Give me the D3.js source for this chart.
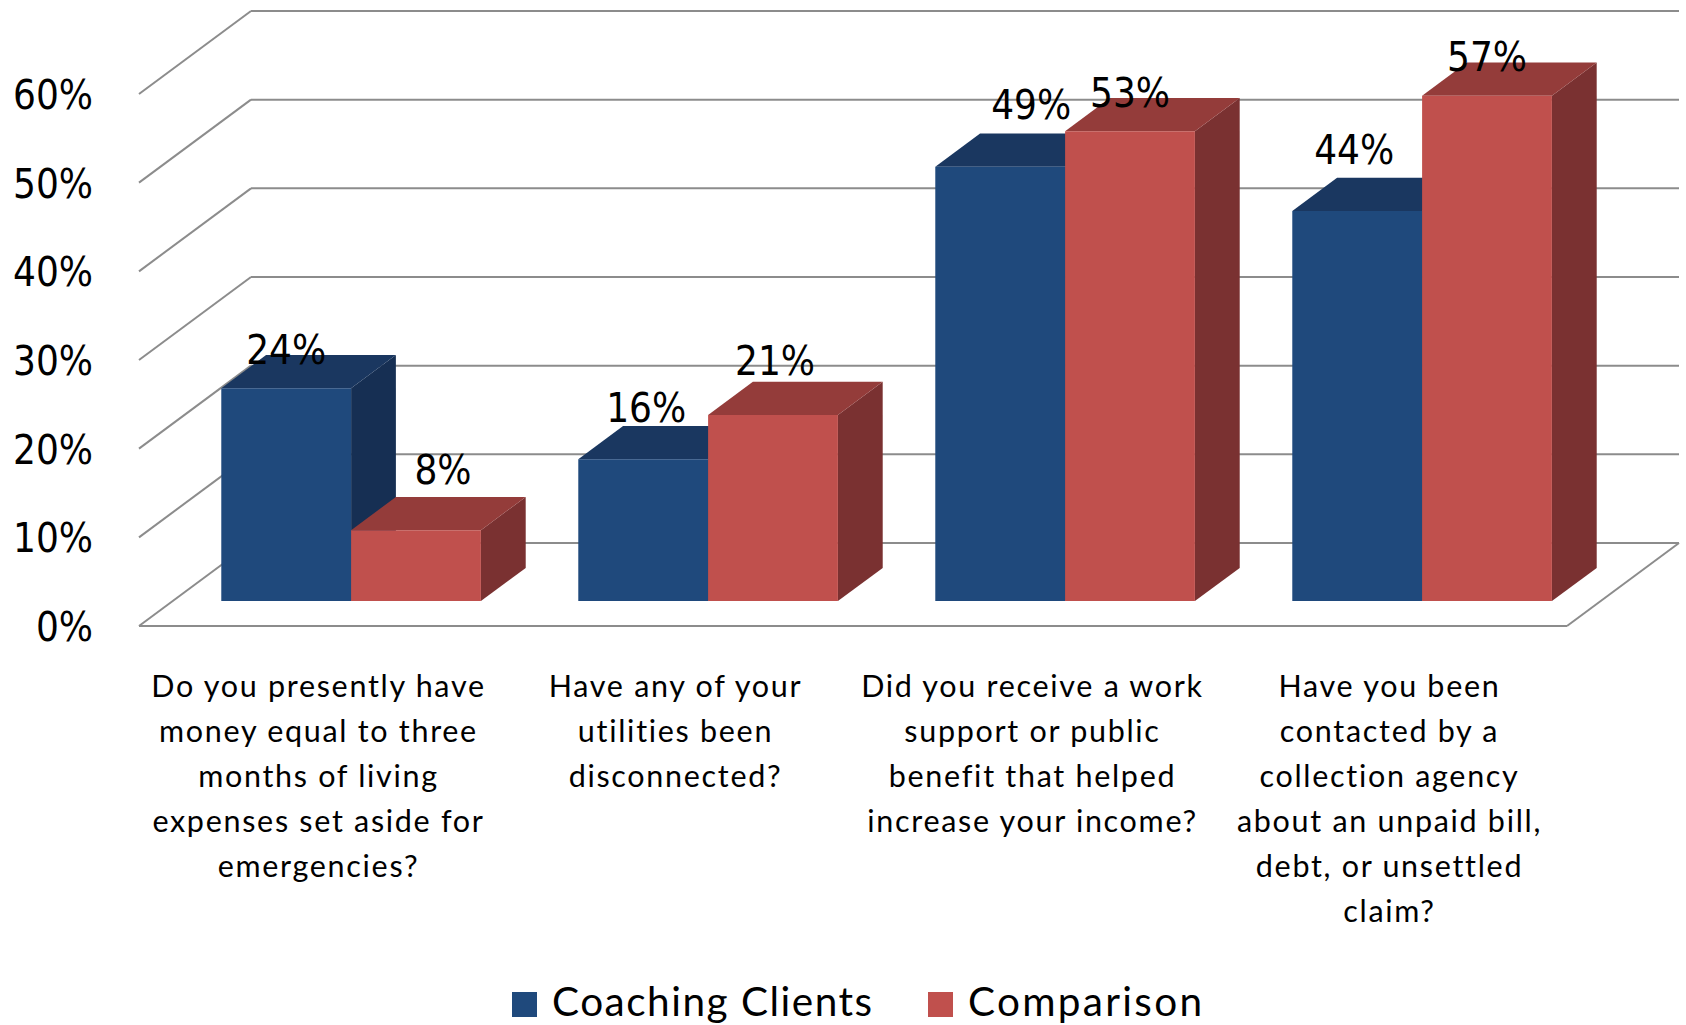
<!DOCTYPE html>
<html>
<head>
<meta charset="utf-8">
<script src="https://cdn.jsdelivr.net/npm/d3@7"></script>
<style>
  html, body { margin: 0; padding: 0; background: #ffffff; }
  svg { display: block; }
  .num { font-family: 'DejaVu Sans Condensed', 'DejaVu Sans', sans-serif; font-stretch: condensed; fill: #000; }
  .cat { font-family: Lato, 'Open Sans', sans-serif; fill: #000; }
</style>
</head>
<body>
<svg id="chart" width="1686" height="1025"></svg>
<script>
// Survey answers, one entry per question (line-broken as shown under the floor)
const categories = [
  ["Do you presently have", "money equal to three", "months of living", "expenses set aside for", "emergencies?"],
  ["Have any of your", "utilities been", "disconnected?"],
  ["Did you receive a work", "support or public", "benefit that helped", "increase your income?"],
  ["Have you been", "contacted by a", "collection agency", "about an unpaid bill,", "debt, or unsettled", "claim?"]
];
const seriesNames = ["Coaching Clients", "Comparison"];
const coachingClients = [0.24, 0.16, 0.49, 0.44];
const comparison = [0.08, 0.21, 0.53, 0.57];
const yTicks = [0, 0.1, 0.2, 0.3, 0.4, 0.5, 0.6];

// Label nudges [dx, dy] away from the default spot over each bar's front top edge
const labelNudge = [
  [[0, -24], [27, -46]],
  [[3, -37], [2, -40]],
  [[31, -48], [0, -24]],
  [[-3, -47], [0, -25]]
];

const seriesColors = [
  { front: "#1F497C", top: "#1A3760", side: "#162F53" },
  { front: "#C0504D", top: "#943C3A", side: "#7A3131" }
];

// Oblique 3D box geometry
const floorLeft = 139, floorRight = 1567;
const floorFrontY = 626, frontTopY = 94;
const depthDX = 112, depthDY = -83;
const barZ0 = 0.3, barZ1 = 0.7;

const svg = d3.select("#chart");

const x = d3.scaleBand().domain(d3.range(categories.length)).range([floorLeft, floorRight]);
const xs = d3.scaleBand().domain(d3.range(seriesNames.length)).range([0, x.bandwidth()]).paddingOuter(0.375);
const y = d3.scaleLinear().domain([0, 0.6]).range([floorFrontY, frontTopY]);

const P = (px, v, z) => [px + z * depthDX, y(v) + z * depthDY];
const poly = pts => "M" + pts.map(p => p.join(",")).join("L") + "Z";
const seg = (a, b) => "M" + a.join(",") + "L" + b.join(",");

const grid = svg.append("g").attr("fill", "none").attr("stroke", "#8c8c8c").attr("stroke-width", 2);

// side wall diagonals and back wall lines
yTicks.forEach(t => {
  grid.append("path").attr("d", seg(P(floorLeft, t, 0), P(floorLeft, t, 1)));
  grid.append("path").attr("d", seg(P(floorLeft, t, 1), P(floorRight, t, 1)));
});
// floor front and right edges
grid.append("path").attr("d", seg(P(floorLeft, 0, 0), P(floorRight, 0, 0)));
grid.append("path").attr("d", seg(P(floorRight, 0, 0), P(floorRight, 0, 1)));

// value axis labels
svg.append("g").selectAll("text").data(yTicks).join("text")
  .attr("class", "num")
  .attr("x", 93)
  .attr("y", d => y(d) + 15)
  .attr("text-anchor", "end")
  .attr("font-size", 40)
  .text(d => d3.format(".0%")(d));

// bars
const series = [coachingClients, comparison];
const bars = svg.append("g");
categories.forEach((c, i) => {
  series.forEach((vals, s) => {
    const v = vals[i];
    const xl = x(i) + xs(s), xr = xl + xs.bandwidth();
    const g = bars.append("g");
    const col = seriesColors[s];
    g.append("path").attr("fill", col.side)
      .attr("d", poly([P(xr, 0, barZ0), P(xr, 0, barZ1), P(xr, v, barZ1), P(xr, v, barZ0)]));
    g.append("path").attr("fill", col.top)
      .attr("d", poly([P(xl, v, barZ0), P(xr, v, barZ0), P(xr, v, barZ1), P(xl, v, barZ1)]));
    g.append("path").attr("fill", col.front)
      .attr("d", poly([P(xl, 0, barZ0), P(xr, 0, barZ0), P(xr, v, barZ0), P(xl, v, barZ0)]));
  });
});

// data labels
const labels = svg.append("g");
categories.forEach((c, i) => {
  series.forEach((vals, s) => {
    const v = vals[i];
    const cx = x(i) + xs(s) + xs.bandwidth() / 2;
    const [px, py] = P(cx, v, barZ0);
    const [dx, dy] = labelNudge[i][s];
    labels.append("text")
      .attr("class", "num")
      .attr("x", px + dx)
      .attr("y", py + dy)
      .attr("text-anchor", "middle")
      .attr("font-size", 40)
      .text(d3.format(".0%")(v));
  });
});

// category labels
const catG = svg.append("g");
categories.forEach((lines, i) => {
  const t = catG.append("text")
    .attr("class", "cat")
    .attr("text-anchor", "middle")
    .attr("font-size", 30.5)
    .attr("letter-spacing", 1.7);
  lines.forEach((ln, k) => {
    t.append("tspan")
      .attr("x", x(i) + x.bandwidth() / 2 + 1)
      .attr("y", 697 + k * 45)
      .text(ln);
  });
});

// legend
const legendItems = [
  { name: seriesNames[0], sx: 512, tx: 552, color: seriesColors[0].front, ls: 1.5 },
  { name: seriesNames[1], sx: 928, tx: 968, color: seriesColors[1].front, ls: 2.3 }
];
const lg = svg.append("g");
legendItems.forEach(d => {
  lg.append("rect").attr("x", d.sx).attr("y", 992).attr("width", 25).attr("height", 25).attr("fill", d.color);
  lg.append("text").attr("class", "cat").attr("x", d.tx).attr("y", 1016)
    .attr("font-size", 40.5).attr("letter-spacing", d.ls).text(d.name);
});
</script>
</body>
</html>
